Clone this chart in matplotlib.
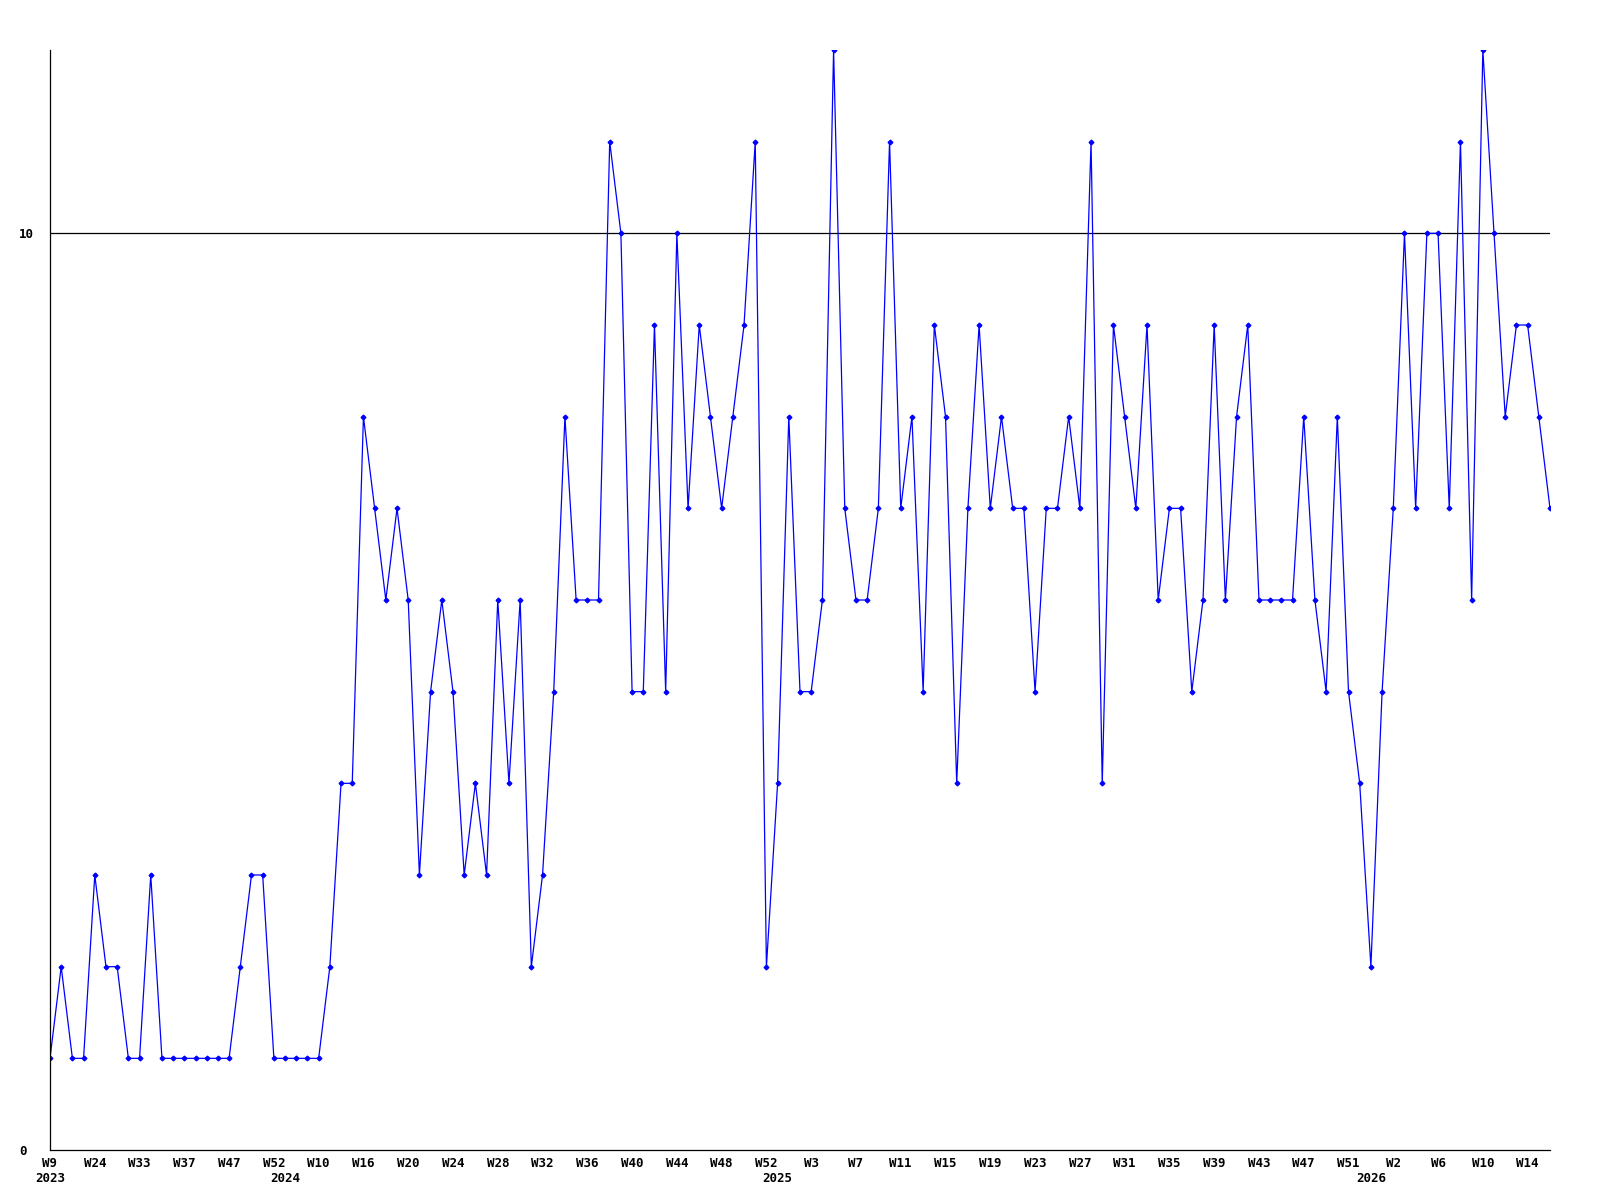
import matplotlib.pyplot as plt
import numpy as np

# 每周数值
values = [1, 2, 1, 1, 3, 2, 2, 1, 1, 3,
          1, 1, 1, 1, 1, 1, 1, 2, 3, 3,
          1, 1, 1, 1, 1, 2, 4, 4, 8, 7,
          6, 7, 6, 3, 5, 6, 5, 3, 4, 3,
          6, 4, 6, 2, 3, 5, 8, 6, 6, 6,
          11, 10, 5, 5, 9, 5, 10, 7, 9, 8,
          7, 8, 9, 11, 2, 4, 8, 5, 5, 6,
          12, 7, 6, 6, 7, 11, 7, 8, 5, 9,
          8, 4, 7, 9, 7, 8, 7, 7, 5, 7,
          7, 8, 7, 11, 4, 9, 8, 7, 9, 6,
          7, 7, 5, 6, 9, 6, 8, 9, 6, 6,
          6, 6, 8, 6, 5, 8, 5, 4, 2, 5,
          7, 10, 7, 10, 10, 7, 11, 6, 12, 10,
          8, 9, 9, 8, 7]

# x轴刻度（每4个点一个）
week_labels = ['W9', 'W24', 'W33', 'W37', 'W47', 'W52', 'W10', 'W16', 'W20',
               'W24', 'W28', 'W32', 'W36', 'W40', 'W44', 'W48', 'W52', 'W3',
               'W7', 'W11', 'W15', 'W19', 'W23', 'W27', 'W31', 'W35', 'W39',
               'W43', 'W47', 'W51', 'W2', 'W6', 'W10', 'W14']
years = ['2023', '2024', '2025', '2026']
year_start_idx = [0, 21, 65, 118]

x = np.arange(len(values))

plt.rcParams['font.family'] = ['DejaVu Sans Mono']
plt.rcParams['font.weight'] = 'bold'

fig = plt.figure(figsize=(16, 12), dpi=100)
ax = fig.add_axes([50 / 1600, 50 / 1200, 1500 / 1600, 1100 / 1200])

ax.plot(x, values, color='#0000ff', linewidth=0.9,
        marker='D', markersize=2.4, markerfacecolor='#0000ff',
        markeredgecolor='#0000ff')

# 10 的参考线
ax.axhline(10, color='black', linewidth=0.9, zorder=1)

ax.set_xlim(0, len(values) - 1)
ax.set_ylim(0, 12)

ax.set_yticks([0, 10])
ax.set_yticklabels(['0', '10'], fontsize=9, fontweight='bold', ha='left')
ax.tick_params(axis='y', length=0, pad=22.5)

# 年份标签放在次刻度上，第一行是周
ax.xaxis.remove_overlapping_locs = False
ax.set_xticks(x[::4])
ax.set_xticklabels(week_labels, fontsize=9, fontweight='bold')
ax.set_xticks(year_start_idx, minor=True)
ax.set_xticklabels(years, minor=True, fontsize=9, fontweight='bold')
ax.tick_params(axis='x', which='major', length=0, pad=5)
ax.tick_params(axis='x', which='minor', length=0, pad=16)

for side in ['top', 'right']:
    ax.spines[side].set_visible(False)
for side in ['left', 'bottom']:
    ax.spines[side].set_linewidth(0.9)

fig.savefig('out.png', dpi=100)
